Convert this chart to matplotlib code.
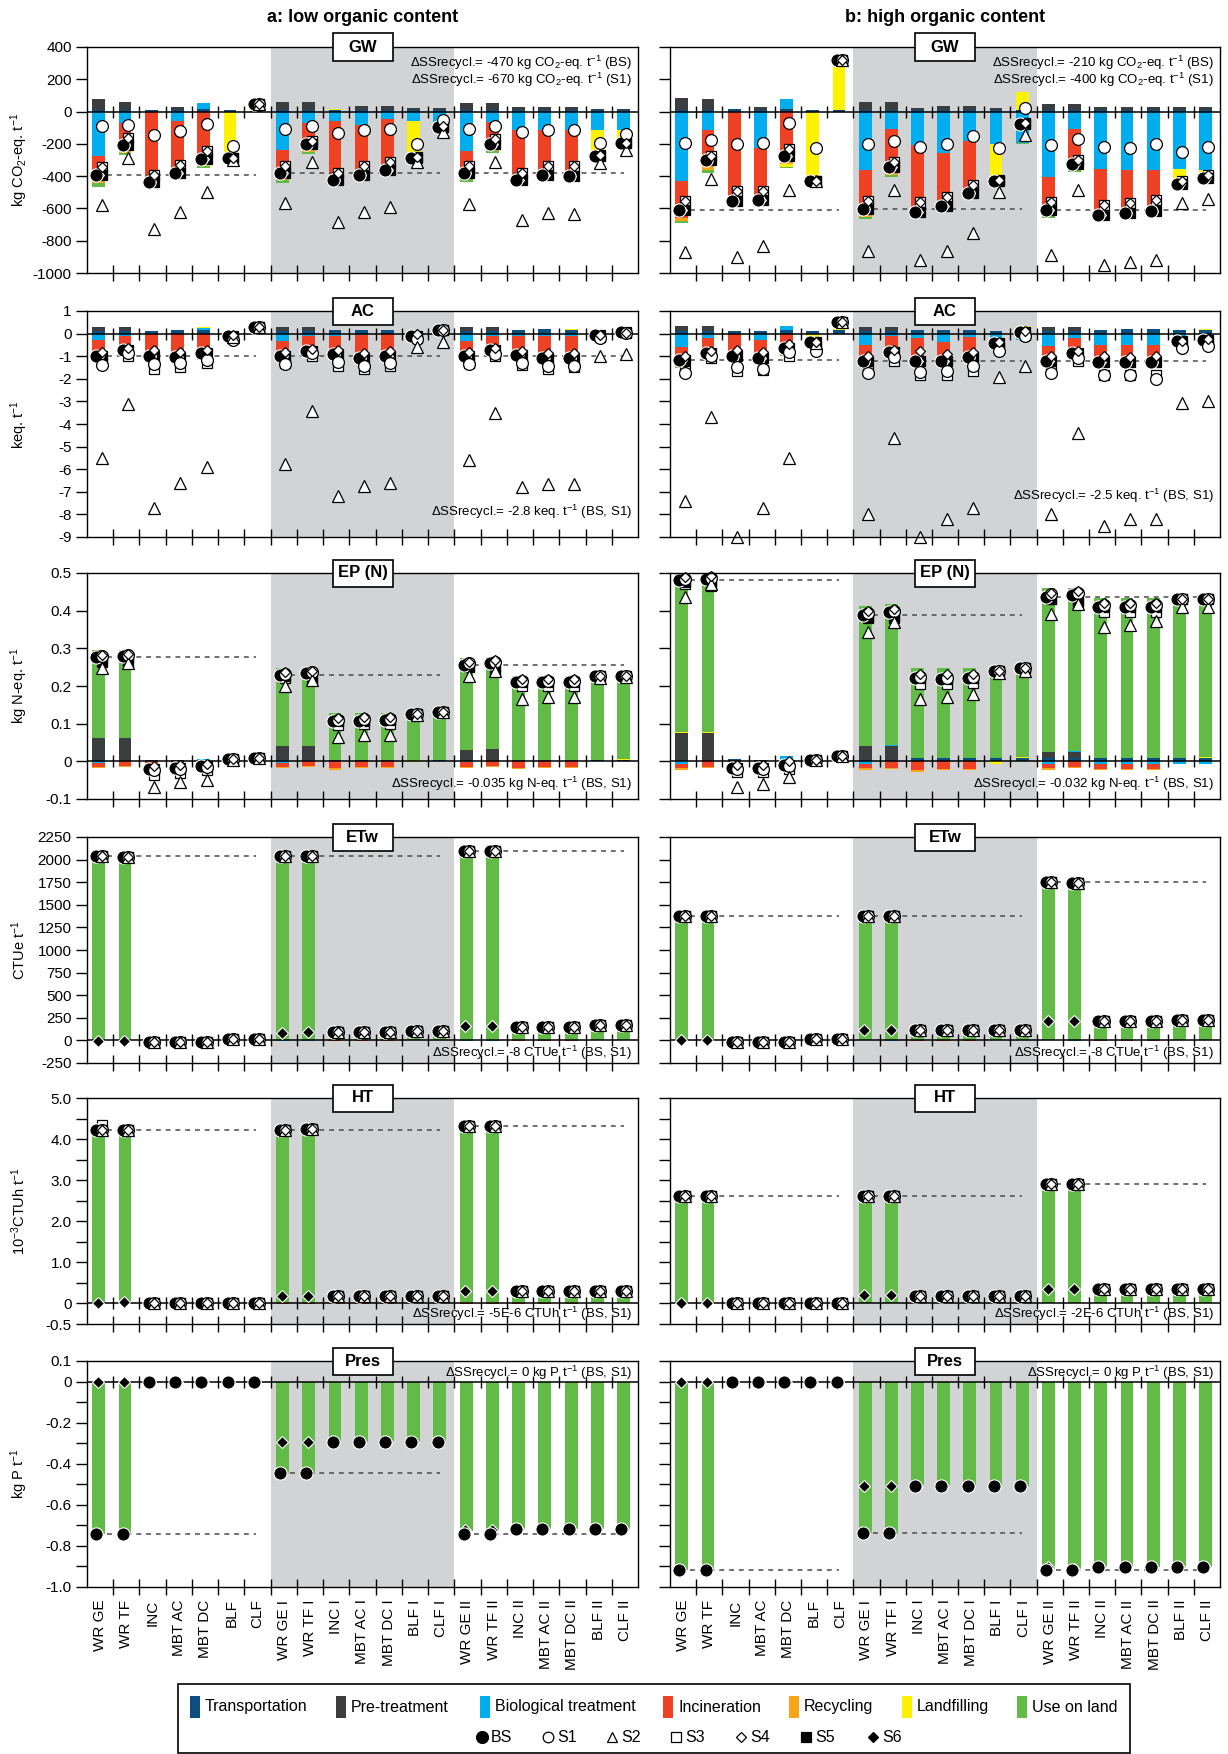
import numpy as np
import matplotlib
matplotlib.use("Agg")
import matplotlib.pyplot as plt
from matplotlib.patches import Rectangle

plt.rcParams['font.family'] = ['Liberation Sans', 'DejaVu Sans']
plt.rcParams['mathtext.fontset'] = 'custom'
plt.rcParams['mathtext.rm'] = 'Liberation Sans'
plt.rcParams['mathtext.it'] = 'Liberation Sans:italic'
plt.rcParams['mathtext.bf'] = 'Liberation Sans:bold'
plt.rcParams['mathtext.default'] = 'regular'
plt.rcParams['axes.unicode_minus'] = False

# ---------------------------------------------------------------- data
CATEGORIES = ["WR GE", "WR TF", "INC", "MBT AC", "MBT DC", "BLF", "CLF",
              "WR GE I", "WR TF I", "INC I", "MBT AC I", "MBT DC I", "BLF I", "CLF I",
              "WR GE II", "WR TF II", "INC II", "MBT AC II", "MBT DC II", "BLF II", "CLF II"]
COMPONENTS = ["Transportation", "Pre-treatment", "Biological treatment", "Incineration",
              "Recycling", "Landfilling", "Use on land"]
SCENARIOS = ["BS", "S1", "S2", "S3", "S4", "S5", "S6"]
COLUMN_TITLES = ["a: low organic content", "b: high organic content"]
IMPACTS = ["GW", "AC", "EP (N)", "ETw", "HT", "Pres"]

# ---- GW (kg CO2-eq/t) ----
GW_A_TRANS = [10, 10, 12, 10, 15, 8, 5, 10, 10, 10, 12, 12, 8, 8, 10, 10, 12, 12, 12, 8, 8]
GW_A_PRE = [65, 50, 0, 18, 0, 0, 0, 50, 50, 0, 23, 23, 12, 12, 45, 45, 16, 18, 18, 10, 10]
GW_A_BIO = [-275, -70, 0, -60, 40, 0, 0, -240, -70, -60, -82, -47, -60, -65, -242, -65, -115, -115, -115, -115, -115]
GW_A_INC = [-135, -145, -420, -300, -305, 0, 0, -145, -140, -345, -300, -300, 0, 0, -140, -140, -290, -250, -255, 0, 0]
GW_A_REC = [-35, -40, -25, -20, -20, 0, 0, -40, -40, -25, -30, -25, 0, 0, -38, -37, -30, -40, -40, 0, 0]
GW_A_LAND = [0, 0, 0, -18, -15, -295, 45, 0, 0, 8, 0, -15, -235, -40, 0, 0, 0, 0, 0, -165, -85]
GW_A_USE = [-20, -12, -5, -10, -8, 0, 0, -15, -13, -14, -18, -13, -10, -11, -15, -12, -15, -20, -18, -15, -15]
GW_A_BS = [-390, -207, -438, -380, -293, -290, 50, -380, -203, -426, -395, -365, -285, -96, -380, -199, -422, -395, -398, -277, -197]
GW_A_S1 = [-90, -85, -145, -118, -80, -215, 50, -105, -88, -135, -113, -105, -200, -55, -105, -88, -125, -113, -113, -197, -140]
GW_A_S2 = [-580, -290, -730, -620, -500, -300, 50, -565, -315, -685, -625, -590, -313, -125, -570, -310, -670, -630, -635, -320, -235]
GW_A_S3 = [-345, -165, -392, -330, -245, -290, 50, -340, -180, -382, -338, -313, -283, -88, -340, -170, -380, -335, -340, -272, -195]
GW_A_S4 = GW_A_S3   # coincide with S3 in the picture
GW_A_S5 = GW_A_BS   # hidden behind BS
GW_A_S6 = GW_A_BS

GW_B_TRANS = [10, 10, 16, 10, 12, 8, 8, 10, 10, 12, 12, 12, 8, 8, 10, 10, 12, 12, 12, 12, 12]
GW_B_PRE = [72, 66, 0, 17, 5, 0, 0, 52, 52, 13, 23, 23, 12, 0, 37, 37, 17, 17, 17, 17, 17]
GW_B_BIO = [-427, -113, 0, -226, 61, 0, 0, -365, -107, -205, -257, -180, -200, -195, -406, -111, -353, -359, -359, -355, -359]
GW_B_INC = [-230, -225, -555, -310, -305, 0, 0, -265, -255, -410, -310, -320, 0, 0, -225, -227, -290, -280, -270, 0, 0]
GW_B_REC = [-20, -25, -8, -15, -18, 0, 0, -22, -28, -22, -15, -18, 0, 0, -15, -22, -15, -12, -10, 0, 0]
GW_B_LAND = [0, 0, 0, -16, -20, -435, 314, 0, 0, 0, -25, -8, -235, 115, 0, 0, 0, 0, 0, -115, -72]
GW_B_USE = [-12, -15, -5, -8, -8, 0, 0, -15, -15, -10, -13, -12, -12, -6, -12, -13, -11, -8, -7, -10, -12]
GW_B_BS = [-607, -302, -552, -548, -273, -427, 322, -605, -343, -622, -585, -503, -427, -78, -611, -326, -640, -630, -617, -451, -414]
GW_B_S1 = [-197, -175, -203, -195, -68, -224, 322, -203, -180, -220, -200, -152, -226, 25, -207, -172, -220, -224, -201, -252, -222]
GW_B_S2 = [-872, -420, -900, -830, -488, -430, 322, -862, -488, -920, -862, -753, -496, -148, -888, -484, -950, -930, -920, -564, -540]
GW_B_S3 = [-554, -273, -492, -492, -230, -427, 322, -552, -314, -558, -530, -453, -425, -72, -560, -297, -580, -564, -550, -431, -394]
GW_B_S4 = GW_B_S3
GW_B_S5 = GW_B_BS
GW_B_S6 = GW_B_BS

# ---- AC (keq/t) ----
AC_A_TRANS = [0.1, 0.1, 0.12, 0.15, 0.15, 0.08, 0.1, 0.1, 0.1, 0.17, 0.17, 0.17, 0.1, 0.1, 0.1, 0.1, 0.17, 0.2, 0.17, 0.08, 0.08]
AC_A_PRE = [0.2, 0.2, 0, 0, 0, 0, 0, 0.17, 0.17, 0, 0, 0, 0, 0, 0.17, 0.17, 0, 0, 0, 0, 0]
AC_A_BIO = [-0.3, -0.12, 0, 0, 0.1, 0, 0, -0.33, -0.12, -0.1, -0.05, 0, -0.1, -0.1, -0.33, -0.12, -0.1, -0.1, -0.1, -0.1, -0.1]
AC_A_INC = [-0.5, -0.5, -0.85, -0.8, -0.75, 0, 0, -0.52, -0.5, -0.72, -0.8, -0.8, 0, 0, -0.52, -0.5, -0.72, -0.8, -0.78, 0, 0]
AC_A_REC = [-0.37, -0.3, -0.2, -0.3, -0.35, 0, 0, -0.3, -0.32, -0.22, -0.3, -0.3, 0, 0, -0.3, -0.3, -0.22, -0.3, -0.3, 0, 0]
AC_A_LAND = [0, 0, 0, 0, 0.05, -0.18, 0.2, 0, 0, 0, 0, 0, -0.1, 0.15, 0, 0, 0, 0, 0.03, -0.05, 0.07]
AC_A_USE = [-0.1, -0.1, -0.04, -0.07, -0.07, 0, 0, -0.09, -0.1, -0.05, -0.09, -0.08, 0, 0, -0.09, -0.09, -0.07, -0.07, -0.09, 0, 0]
AC_A_BS = [-0.97, -0.72, -0.97, -1.02, -0.87, -0.1, 0.3, -0.97, -0.77, -0.92, -1.07, -1.01, -0.1, 0.15, -0.97, -0.74, -0.94, -1.07, -1.07, -0.07, 0.05]
AC_A_S1 = [-1.37, -0.85, -1.35, -1.3, -1.15, -0.3, 0.3, -1.33, -0.88, -1.25, -1.44, -1.3, -0.25, 0.15, -1.33, -0.9, -1.3, -1.44, -1.44, -0.18, 0.02]
AC_A_S2 = [-5.5, -3.1, -7.7, -6.6, -5.9, -0.15, 0.3, -5.75, -3.42, -7.2, -6.75, -6.6, -0.6, -0.35, -5.6, -3.5, -6.8, -6.65, -6.65, -1.0, -0.9]
AC_A_S3 = [-1.3, -1.0, -1.55, -1.5, -1.3, -0.2, 0.3, -1.3, -1.0, -1.44, -1.55, -1.44, -0.2, 0.15, -1.3, -1.0, -1.37, -1.56, -1.5, -0.15, 0.02]
AC_A_S4 = [-0.82, -0.65, -0.72, -0.82, -0.72, -0.07, 0.3, -0.82, -0.7, -0.73, -0.85, -0.77, 0.0, 0.15, -0.82, -0.65, -0.75, -0.88, -0.88, -0.05, 0.04]
AC_A_S5 = AC_A_BS
AC_A_S6 = AC_A_BS

AC_B_TRANS = [0.1, 0.1, 0.1, 0.13, 0.15, 0.1, 0.15, 0.1, 0.1, 0.18, 0.18, 0.18, 0.13, 0.1, 0.1, 0.1, 0.18, 0.22, 0.22, 0.18, 0.15]
AC_B_PRE = [0.23, 0.23, 0, 0, 0, 0, 0, 0.18, 0.18, 0, 0, 0, 0, 0, 0.18, 0.18, 0, 0, 0, 0, 0]
AC_B_BIO = [-0.6, -0.2, 0, -0.27, 0.2, 0, 0, -0.49, -0.1, -0.2, -0.37, -0.15, -0.35, -0.27, -0.53, -0.2, -0.49, -0.49, -0.49, -0.3, -0.45]
AC_B_INC = [-0.55, -0.55, -0.86, -0.73, -0.78, 0, 0, -0.66, -0.65, -0.93, -0.78, -0.88, 0, 0, -0.65, -0.7, -0.75, -0.74, -0.74, 0, 0]
AC_B_REC = [-0.27, -0.3, -0.18, -0.16, -0.16, 0, 0, -0.27, -0.25, -0.2, -0.18, -0.14, 0, 0, -0.25, -0.18, -0.16, -0.2, -0.2, 0, 0]
AC_B_LAND = [0, 0, 0, 0, 0, -0.47, 0.35, 0, 0, 0, 0, 0, -0.15, 0.25, 0, 0, 0, 0, 0, -0.18, 0.07]
AC_B_USE = [-0.09, -0.14, -0.04, -0.05, -0.05, 0, 0, -0.08, -0.09, -0.05, -0.05, -0.05, -0.04, -0.02, -0.07, -0.06, -0.04, -0.05, -0.05, -0.04, -0.04]
AC_B_BS = [-1.18, -0.86, -0.98, -1.08, -0.64, -0.37, 0.5, -1.22, -0.81, -1.2, -1.2, -1.04, -0.41, 0.06, -1.22, -0.86, -1.26, -1.26, -1.26, -0.34, -0.27]
AC_B_S1 = [-1.75, -1.0, -1.5, -1.55, -0.83, -0.75, 0.5, -1.75, -1.05, -1.7, -1.67, -1.45, -0.75, -0.12, -1.75, -1.08, -1.85, -1.85, -2.0, -0.64, -0.56]
AC_B_S2 = [-7.4, -3.7, -9.0, -7.7, -5.5, -0.4, 0.5, -8.0, -4.6, -9.0, -8.2, -7.7, -1.9, -1.42, -8.0, -4.4, -8.5, -8.2, -8.2, -3.05, -3.0]
AC_B_S3 = [-1.64, -1.08, -1.67, -1.6, -1.0, -0.56, 0.5, -1.67, -1.23, -1.85, -1.82, -1.67, -0.6, -0.05, -1.67, -1.23, -1.85, -1.85, -1.82, -0.52, -0.41]
AC_B_S4 = [-1.0, -0.75, -0.71, -0.83, -0.46, -0.37, 0.5, -1.0, -0.71, -0.78, -0.89, -0.83, -0.37, 0.1, -1.0, -0.75, -1.0, -1.03, -1.0, -0.34, -0.22]
AC_B_S5 = AC_B_BS
AC_B_S6 = AC_B_BS

# ---- EP (kg N-eq/t) ----
EP_A_TRANS = [0.001, 0.001, 0.003, 0.003, 0.003, 0.002, 0.002, 0.004, 0.004, 0.004, 0.004, 0.004, 0.002, 0.004, 0.001, 0.002, 0.004, 0.004, 0.004, 0.004, 0.004]
EP_A_PRE = [0.061, 0.061, 0, 0, 0, 0, 0, 0.036, 0.036, 0, 0, 0, 0, 0, 0.03, 0.031, 0, 0, 0, 0, 0]
EP_A_BIO = [-0.005, 0, 0, 0, 0.002, 0, 0, -0.005, 0, 0, 0, 0, 0, 0, -0.003, 0, 0, 0, 0, 0, 0]
EP_A_INC = [-0.01, -0.013, -0.005, -0.004, -0.003, 0, 0, -0.009, -0.012, -0.019, -0.016, -0.015, 0, 0, -0.011, -0.012, -0.019, -0.015, -0.015, 0, 0]
EP_A_REC = [-0.004, -0.003, -0.001, -0.001, 0, 0, 0, -0.005, -0.004, -0.003, -0.003, -0.003, 0, 0, -0.003, -0.003, -0.002, -0.003, -0.003, 0, 0]
EP_A_LAND = [0, 0, 0, 0, 0, 0, 0, 0, 0, 0, 0, 0, -0.002, 0, 0, 0, 0, 0, 0, 0, 0.002]
EP_A_USE = [0.233, 0.234, 0, 0, 0, 0.004, 0.008, 0.208, 0.208, 0.124, 0.124, 0.124, 0.124, 0.133, 0.243, 0.243, 0.223, 0.223, 0.223, 0.229, 0.227]
EP_A_BS = [0.276, 0.28, -0.02, -0.018, -0.013, 0.005, 0.01, 0.229, 0.235, 0.106, 0.108, 0.11, 0.126, 0.131, 0.257, 0.261, 0.21, 0.21, 0.21, 0.227, 0.227]
EP_A_S1 = [0.279, 0.283, -0.022, -0.02, -0.015, 0.005, 0.01, 0.233, 0.238, 0.11, 0.112, 0.113, 0.126, 0.131, 0.261, 0.265, 0.213, 0.213, 0.213, 0.227, 0.227]
EP_A_S2 = [0.248, 0.262, -0.068, -0.055, -0.049, 0.004, 0.01, 0.2, 0.217, 0.065, 0.071, 0.071, 0.124, 0.131, 0.227, 0.24, 0.166, 0.17, 0.17, 0.222, 0.225]
EP_A_S3 = [0.27, 0.275, -0.035, -0.03, -0.024, 0.005, 0.01, 0.221, 0.225, 0.097, 0.098, 0.1, 0.126, 0.131, 0.25, 0.25, 0.2, 0.2, 0.2, 0.227, 0.227]
EP_A_S4 = [0.283, 0.286, -0.012, -0.01, -0.006, 0.005, 0.01, 0.236, 0.24, 0.115, 0.117, 0.118, 0.126, 0.131, 0.265, 0.268, 0.218, 0.218, 0.218, 0.227, 0.227]
EP_A_S5 = [0.265, 0.263, -0.02, -0.018, -0.013, 0.005, 0.01, 0.226, 0.218, 0.106, 0.108, 0.11, 0.126, 0.131, 0.253, 0.24, 0.21, 0.21, 0.21, 0.227, 0.227]
EP_A_S6 = EP_A_BS

EP_B_TRANS = [0.002, 0.002, 0.005, 0.003, 0.003, 0.002, 0.006, 0.004, 0.004, 0.008, 0.008, 0.008, 0.008, 0.008, 0.008, 0.008, 0.008, 0.008, 0.008, 0.008, 0.008]
EP_B_PRE = [0.073, 0.073, 0, 0, 0, 0, 0, 0.037, 0.038, 0, 0, 0, 0, 0, 0.018, 0.018, 0, 0, 0, 0, 0]
EP_B_BIO = [-0.006, 0, 0, 0, 0.01, 0, 0, -0.006, 0.002, 0, 0, 0, 0, 0, -0.006, 0.002, -0.006, -0.006, -0.006, -0.006, -0.006]
EP_B_INC = [-0.013, -0.016, -0.003, -0.002, -0.002, 0, 0, -0.013, -0.017, -0.024, -0.02, -0.02, 0, 0, -0.013, -0.016, -0.015, -0.015, -0.015, 0, 0]
EP_B_REC = [-0.005, -0.003, 0, 0, 0, 0, 0, -0.005, -0.003, -0.003, -0.003, -0.003, 0, 0, -0.003, -0.003, -0.003, -0.003, -0.003, 0, 0]
EP_B_LAND = [0.002, 0.002, 0, 0.001, 0, 0, 0, 0, 0, 0, 0, 0, -0.008, 0.003, 0, 0, 0, 0, 0, 0, 0.003]
EP_B_USE = [0.429, 0.426, 0, 0, 0, 0.003, 0.007, 0.371, 0.373, 0.239, 0.239, 0.239, 0.242, 0.245, 0.433, 0.433, 0.426, 0.426, 0.426, 0.426, 0.421]
EP_B_BS = [0.482, 0.484, -0.018, -0.018, -0.009, 0.004, 0.013, 0.388, 0.397, 0.22, 0.218, 0.22, 0.241, 0.247, 0.437, 0.442, 0.409, 0.409, 0.409, 0.43, 0.432]
EP_B_S1 = [0.485, 0.488, -0.02, -0.02, -0.012, 0.004, 0.013, 0.393, 0.4, 0.225, 0.222, 0.225, 0.241, 0.247, 0.443, 0.447, 0.415, 0.415, 0.415, 0.43, 0.432]
EP_B_S2 = [0.437, 0.47, -0.068, -0.06, -0.042, 0.004, 0.013, 0.344, 0.37, 0.166, 0.172, 0.178, 0.235, 0.24, 0.391, 0.417, 0.357, 0.362, 0.372, 0.41, 0.41]
EP_B_S3 = [0.472, 0.475, -0.029, -0.028, -0.02, 0.004, 0.013, 0.38, 0.385, 0.205, 0.205, 0.207, 0.241, 0.247, 0.43, 0.428, 0.397, 0.397, 0.397, 0.43, 0.432]
EP_B_S4 = [0.49, 0.493, -0.009, -0.01, 0.0, 0.004, 0.013, 0.4, 0.405, 0.231, 0.232, 0.232, 0.241, 0.247, 0.447, 0.452, 0.421, 0.421, 0.421, 0.43, 0.432]
EP_B_S5 = [0.475, 0.465, -0.018, -0.018, -0.009, 0.004, 0.013, 0.383, 0.38, 0.22, 0.218, 0.22, 0.241, 0.247, 0.432, 0.42, 0.409, 0.409, 0.409, 0.43, 0.432]
EP_B_S6 = EP_B_BS

# ---- ETw (CTUe/t) ----
ETW_A_BIO = [0, 0, 0, 0, 0, 0, 0, -6, -6, 0, 0, 0, 0, 0, -6, -6, 0, 0, 0, 0, 0]
ETW_A_INC = [0, 0, -12, -12, -12, 0, 0, 0, 0, -5, -5, -5, 0, 0, 0, 0, -4, -4, -4, 0, 0]
ETW_A_USE = [2035, 2000, 0, 0, 0, 15, 15, 2040, 2010, 85, 85, 85, 100, 100, 2085, 2060, 150, 150, 150, 165, 165]
ETW_A_BS = [2035, 2030, -15, -15, -15, 18, 18, 2040, 2040, 88, 88, 88, 102, 102, 2090, 2090, 152, 152, 152, 167, 167]
ETW_A_S1 = ETW_A_BS  # S1-S5 coincide with BS
ETW_A_S2 = ETW_A_BS
ETW_A_S3 = ETW_A_BS
ETW_A_S4 = ETW_A_BS
ETW_A_S5 = ETW_A_BS
ETW_A_S6 = [-5, -5, -15, -15, -15, 18, 18, 85, 88, 88, 88, 88, 102, 102, 155, 155, 152, 152, 152, 167, 167]

ETW_B_BIO = [0, -5, 0, 0, 0, 0, 0, 0, -5, 0, 0, 0, 0, 0, 0, -5, 0, 0, 0, 0, 0]
ETW_B_INC = [0, 0, -12, -12, -12, 0, 0, 0, 0, -4, -4, -4, 0, 0, 0, 0, -4, -4, -4, 0, 0]
ETW_B_LAND = [0, 0, 0, 0, 0, 0, 0, 0, 0, 0, 0, 0, 5, 5, 0, 0, 0, 0, 0, 0, 0]
ETW_B_USE = [1380, 1375, 0, 0, 0, 10, 12, 1373, 1370, 105, 105, 105, 110, 110, 1750, 1735, 210, 210, 210, 222, 222]
ETW_B_BS = [1380, 1380, -15, -15, -15, 12, 14, 1373, 1373, 110, 110, 110, 120, 120, 1750, 1742, 213, 213, 213, 225, 225]
ETW_B_S1 = ETW_B_BS
ETW_B_S2 = ETW_B_BS
ETW_B_S3 = ETW_B_BS
ETW_B_S4 = ETW_B_BS
ETW_B_S5 = ETW_B_BS
ETW_B_S6 = [0, 0, -15, -15, -15, 12, 14, 120, 120, 110, 110, 110, 120, 120, 217, 217, 213, 213, 213, 225, 225]

# ---- HT (1e-3 CTUh/t) ----
HT_A_INC = [-0.02, -0.02, 0, 0, 0, 0, 0, -0.02, -0.02, -0.02, -0.02, -0.02, 0, 0, -0.02, -0.02, -0.02, -0.02, -0.02, 0, 0]
HT_A_USE = [4.22, 4.22, 0, 0, 0, 0, 0, 4.24, 4.26, 0.19, 0.19, 0.19, 0.18, 0.18, 4.32, 4.32, 0.31, 0.31, 0.31, 0.3, 0.3]
HT_A_BS = [4.23, 4.23, 0, 0, 0, 0, 0, 4.23, 4.25, 0.18, 0.18, 0.18, 0.18, 0.18, 4.31, 4.31, 0.3, 0.3, 0.3, 0.3, 0.3]
HT_A_S1 = HT_A_BS
HT_A_S2 = HT_A_BS
HT_A_S3 = [4.34, 4.23, 0, 0, 0, 0, 0, 4.23, 4.25, 0.18, 0.18, 0.18, 0.18, 0.18, 4.31, 4.31, 0.3, 0.3, 0.3, 0.3, 0.3]
HT_A_S4 = HT_A_BS
HT_A_S5 = HT_A_BS
HT_A_S6 = [0.0, 0.04, 0, 0, 0, 0, 0, 0.17, 0.19, 0.18, 0.18, 0.18, 0.18, 0.18, 0.31, 0.31, 0.3, 0.3, 0.3, 0.3, 0.3]

HT_B_USE = [2.61, 2.61, 0, 0, 0, 0, 0, 2.61, 2.61, 0.19, 0.19, 0.19, 0.19, 0.19, 2.91, 2.91, 0.36, 0.36, 0.36, 0.36, 0.36]
HT_B_BS = [2.61, 2.61, 0, 0, 0, 0, 0, 2.61, 2.61, 0.19, 0.19, 0.19, 0.19, 0.19, 2.91, 2.91, 0.36, 0.36, 0.36, 0.36, 0.36]
HT_B_S1 = HT_B_BS
HT_B_S2 = HT_B_BS
HT_B_S3 = HT_B_BS
HT_B_S4 = HT_B_BS
HT_B_S5 = HT_B_BS
HT_B_S6 = [0, 0, 0, 0, 0, 0, 0, 0.2, 0.2, 0.19, 0.19, 0.19, 0.19, 0.19, 0.36, 0.36, 0.36, 0.36, 0.36, 0.36, 0.36]

# ---- Pres (kg P/t) ----
PRES_A_USE = [-0.744, -0.744, 0, 0, 0, 0, 0, -0.445, -0.445, -0.296, -0.296, -0.296, -0.296, -0.296, -0.728, -0.728, -0.72, -0.72, -0.72, -0.72, -0.72]
PRES_A_BS = [-0.744, -0.744, 0, 0, 0, 0, 0, -0.445, -0.445, -0.296, -0.296, -0.296, -0.296, -0.296, -0.744, -0.744, -0.72, -0.72, -0.72, -0.72, -0.72]
PRES_A_S6 = [0, 0, 0, 0, 0, 0, 0, -0.296, -0.296, -0.296, -0.296, -0.296, -0.296, -0.296, -0.723, -0.723, -0.72, -0.72, -0.72, -0.72, -0.72]

PRES_B_USE = [-0.915, -0.915, 0, 0, 0, 0, 0, -0.735, -0.735, -0.507, -0.507, -0.507, -0.507, -0.507, -0.91, -0.91, -0.905, -0.905, -0.905, -0.905, -0.905]
PRES_B_BS = [-0.915, -0.915, 0, 0, 0, 0, 0, -0.735, -0.735, -0.507, -0.507, -0.507, -0.507, -0.507, -0.915, -0.915, -0.905, -0.905, -0.905, -0.905, -0.905]
PRES_B_S6 = [0, 0, 0, 0, 0, 0, 0, -0.507, -0.507, -0.507, -0.507, -0.507, -0.507, -0.507, -0.905, -0.91, -0.905, -0.905, -0.905, -0.905, -0.905]

# ---- annotations ----
GW_A_NOTE = ["ΔSSrecycl.= -470 kg CO$_2$-eq. t$^{-1}$ (BS)", "ΔSSrecycl.= -670 kg CO$_2$-eq. t$^{-1}$ (S1)"]
GW_B_NOTE = ["ΔSSrecycl.= -210 kg CO$_2$-eq. t$^{-1}$ (BS)", "ΔSSrecycl.= -400 kg CO$_2$-eq. t$^{-1}$ (S1)"]
AC_A_NOTE = ["ΔSSrecycl.= -2.8 keq. t$^{-1}$ (BS, S1)"]
AC_B_NOTE = ["ΔSSrecycl.= -2.5 keq. t$^{-1}$ (BS, S1)"]
EP_A_NOTE = ["ΔSSrecycl.= -0.035 kg N-eq. t$^{-1}$ (BS, S1)"]
EP_B_NOTE = ["ΔSSrecycl.= -0.032 kg N-eq. t$^{-1}$ (BS, S1)"]
ETW_NOTE = ["ΔSSrecycl.= -8 CTUe t$^{-1}$ (BS, S1)"]
HT_A_NOTE = ["ΔSSrecycl.= -5E-6 CTUh t$^{-1}$ (BS, S1)"]
HT_B_NOTE = ["ΔSSrecycl.= -2E-6 CTUh t$^{-1}$ (BS, S1)"]
PRES_NOTE = ["ΔSSrecycl.= 0 kg P t$^{-1}$ (BS, S1)"]

YLABELS = ["kg CO$_2$-eq. t$^{-1}$", "keq. t$^{-1}$", "kg N-eq. t$^{-1}$",
           "CTUe t$^{-1}$", "10$^{-3}$CTUh t$^{-1}$", "kg P t$^{-1}$"]

# ---------------------------------------------------------------- styles
COLORS = {"Transportation": "#0d4e80", "Pre-treatment": "#3a3e3e",
          "Biological treatment": "#00aeef", "Incineration": "#ef4123",
          "Recycling": "#f9a51a", "Landfilling": "#fff200", "Use on land": "#63bb47"}
MSTYLE = {  # marker, face, edge, size, x-offset, zorder
    "S3": dict(marker="s", mfc="white", mec="black", ms=7.5, off=0.06, z=6),
    "S5": dict(marker="s", mfc="black", mec="black", ms=7.5, off=0.06, z=7),
    "S6": dict(marker="D", mfc="black", mec="white", ms=6, off=-0.08, z=7.5),
    "BS": dict(marker="o", mfc="black", mec="white", ms=9.5, off=-0.14, z=8),
    "S1": dict(marker="o", mfc="white", mec="black", ms=8.5, off=0.06, z=9),
    "S2": dict(marker="^", mfc="white", mec="black", ms=8, off=0.06, z=10),
    "S4": dict(marker="D", mfc="white", mec="black", ms=5.5, off=0.06, z=11),
}
DRAW_ORDER = ["S3", "S5", "S6", "BS", "S1", "S2", "S4"]


def comps(prefix):
    g = globals()
    keys = {"Transportation": "TRANS", "Pre-treatment": "PRE", "Biological treatment": "BIO",
            "Incineration": "INC", "Recycling": "REC", "Landfilling": "LAND", "Use on land": "USE"}
    return {c: g[prefix + "_" + k] for c, k in keys.items() if prefix + "_" + k in g}


def marks(prefix):
    g = globals()
    return {s: g[prefix + "_" + s] for s in SCENARIOS if prefix + "_" + s in g}


ROWS = [
    dict(key="GW", ylim=(-1000, 400), ticks=list(range(-1000, 401, 200)),
         labels=[str(v) for v in range(-1000, 401, 200)],
         notes=(GW_A_NOTE, GW_B_NOTE), note_y=("top", "top")),
    dict(key="AC", ylim=(-9, 1), ticks=list(range(-9, 2)),
         labels=[str(v) for v in range(-9, 2)],
         notes=(AC_A_NOTE, AC_B_NOTE), note_y=(0.11, 0.18)),
    dict(key="EP", ylim=(-0.1, 0.5), ticks=[-0.1, 0, 0.1, 0.2, 0.3, 0.4, 0.5],
         labels=["-0.1", "0", "0.1", "0.2", "0.3", "0.4", "0.5"],
         notes=(EP_A_NOTE, EP_B_NOTE), note_y=(0.065, 0.065)),
    dict(key="ETW", ylim=(-250, 2250), ticks=list(range(-250, 2251, 250)),
         labels=[str(v) for v in range(-250, 2251, 250)],
         notes=(ETW_NOTE, ETW_NOTE), note_y=(0.045, 0.045)),
    dict(key="HT", ylim=(-0.5, 5.0), ticks=[-0.5, 0, 0.5, 1, 1.5, 2, 2.5, 3, 3.5, 4, 4.5, 5],
         labels=["-0.5", "0", "", "1.0", "", "2.0", "", "3.0", "", "4.0", "", "5.0"],
         notes=(HT_A_NOTE, HT_B_NOTE), note_y=(0.045, 0.045)),
    dict(key="PRES", ylim=(-1.0, 0.1), ticks=[-1.0, -0.9, -0.8, -0.7, -0.6, -0.5, -0.4, -0.3, -0.2, -0.1, 0, 0.1],
         labels=["-1.0", "", "-0.8", "", "-0.6", "", "-0.4", "", "-0.2", "", "0", "0.1"],
         notes=(PRES_NOTE, PRES_NOTE), note_y=("pres", "pres")),
]

# ---------------------------------------------------------------- layout (pixels)
W, H = 1228, 1754
COL_X = [87, 670]
COL_W = [551, 550]
ROW_TOP = [47, 311, 573, 837, 1098, 1361]
ROW_H = 226
BAR_W = 0.49
BAR_OFF = -0.05
GROUP_STARTS = [0, 7, 14]

fig = plt.figure(figsize=(W / 100, H / 100), dpi=100)


def draw_panel(ax, comp, mk, row, col, bottom):
    x = np.arange(len(CATEGORIES))
    ax.axvspan(6.5, 13.5, color="#d1d3d4", lw=0, zorder=0)
    pos = np.zeros(len(x))
    neg = np.zeros(len(x))
    for c in COMPONENTS:
        if c not in comp:
            continue
        v = np.asarray(comp[c], float)
        p = np.where(v > 0, v, 0.0)
        n = np.where(v < 0, v, 0.0)
        ax.bar(x + BAR_OFF, p, BAR_W, bottom=pos, color=COLORS[c], lw=0, zorder=2)
        ax.bar(x + BAR_OFF, n, BAR_W, bottom=neg, color=COLORS[c], lw=0, zorder=2)
        pos += p
        neg += n
    # zero line with crosses at category boundaries
    ax.axhline(0, color="black", lw=1.1, zorder=3)
    bnd = np.arange(0.5, 20, 1.0)
    ax.plot(bnd, np.zeros(len(bnd)), ls="none", marker="|", ms=8, mew=1.0, color="black", zorder=3)
    # dashed reference line at WR GE (BS) of each group
    bs = mk["BS"]
    for g in GROUP_STARTS:
        ax.plot([g + 0.25, g + 5.95], [bs[g], bs[g]], color="#4a4a4a", lw=1.1,
                ls=(0, (3.2, 3.2)), zorder=4)
    # scenario markers
    for s in DRAW_ORDER:
        if s not in mk:
            continue
        st = MSTYLE[s]
        mew = 0.8 if s in ("BS", "S6") else 0.9
        ax.plot(x + st["off"], mk[s], ls="none", marker=st["marker"], ms=st["ms"],
                mfc=st["mfc"], mec=st["mec"], mew=mew, zorder=st["z"], clip_on=False)
    ax.set_xlim(-0.5, 20.5)
    ax.set_ylim(*row["ylim"])
    ax.set_yticks(row["ticks"])
    ax.set_yticklabels(row["labels"] if col == 0 else [], fontsize=11)
    ax.tick_params(axis="y", direction="out", length=8, width=1, pad=3)
    ax.set_xticks(bnd)
    ax.set_xticklabels([])
    ax.tick_params(axis="x", which="major", direction="inout", length=12, width=1)
    ax.set_xticks(x, minor=True)
    if bottom:
        ax.set_xticklabels(CATEGORIES, minor=True, rotation=90, fontsize=11)
    else:
        ax.set_xticklabels([], minor=True)
    ax.tick_params(axis="x", which="minor", length=0, pad=9)
    for sp in ax.spines.values():
        sp.set_linewidth(1.0)
        sp.set_zorder(20)


for r, row in enumerate(ROWS):
    for c in range(2):
        x0 = COL_X[c]
        y0 = ROW_TOP[r]
        ax = fig.add_axes([x0 / W, 1 - (y0 + ROW_H) / H, COL_W[c] / W, ROW_H / H])
        prefix = row["key"] + ("_A" if c == 0 else "_B")
        draw_panel(ax, comps(prefix), marks(prefix), row, c, r == len(ROWS) - 1)
        # panel label box
        bw = 60 / COL_W[c]
        bh = 27 / ROW_H
        ax.add_patch(Rectangle((0.5 - bw / 2, 1 - bh / 2), bw, bh, transform=ax.transAxes,
                               facecolor="white", edgecolor="black", lw=1.2, clip_on=False, zorder=30))
        ax.text(0.5, 1.0, IMPACTS[r], transform=ax.transAxes, ha="center", va="center",
                fontsize=12, fontweight="bold", zorder=31)
        # note
        notes = row["notes"][c]
        ny = row["note_y"][c]
        xr = 1 - 6 / COL_W[c]
        if ny == "top":
            for i, t in enumerate(notes):
                ax.text(xr, 1 - (16 + 17 * i) / ROW_H, t, transform=ax.transAxes,
                        ha="right", va="center", fontsize=9.5, zorder=25)
        elif ny == "pres":
            ax.text(xr, 1 - 12 / ROW_H, notes[0], transform=ax.transAxes,
                    ha="right", va="center", fontsize=9.5, zorder=25)
        else:
            ax.text(xr, ny, notes[0], transform=ax.transAxes,
                    ha="right", va="center", fontsize=9.5, zorder=25)

# ---------------------------------------------------------------- overlay: titles, y labels, legend
ov = fig.add_axes([0, 0, 1, 1])
ov.set_xlim(0, W)
ov.set_ylim(H, 0)
ov.axis("off")

for c, t in enumerate(COLUMN_TITLES):
    ov.text(COL_X[c] + COL_W[c] / 2, 17, t, ha="center", va="center", fontsize=13, fontweight="bold")
for r, lab in enumerate(YLABELS):
    ov.text(19, ROW_TOP[r] + ROW_H / 2, lab, rotation=90, ha="center", va="center", fontsize=10.5)

ov.add_patch(Rectangle((178, 1684), 952, 69, facecolor="white", edgecolor="black", lw=1.2))
LEG_PATCH_X = [195, 341, 485, 668, 794, 907, 1022]
for c, px in zip(COMPONENTS, LEG_PATCH_X):
    ov.add_patch(Rectangle((px - 5, 1696), 10, 22, facecolor=COLORS[c], edgecolor="none"))
    ov.text(px + 10, 1707, c, ha="left", va="center", fontsize=11.5)
LEG_MARK_X = [482, 548, 612, 676, 741, 806, 873]
for s, mx in zip(SCENARIOS, LEG_MARK_X):
    st = MSTYLE[s]
    ov.plot([mx], [1737], ls="none", marker=st["marker"], ms=st["ms"] * 0.9,
            mfc=st["mfc"], mec="black", mew=0.9)
    ov.text(mx + 9, 1737, s, ha="left", va="center", fontsize=11.5)

fig.savefig("out.png", dpi=100)
